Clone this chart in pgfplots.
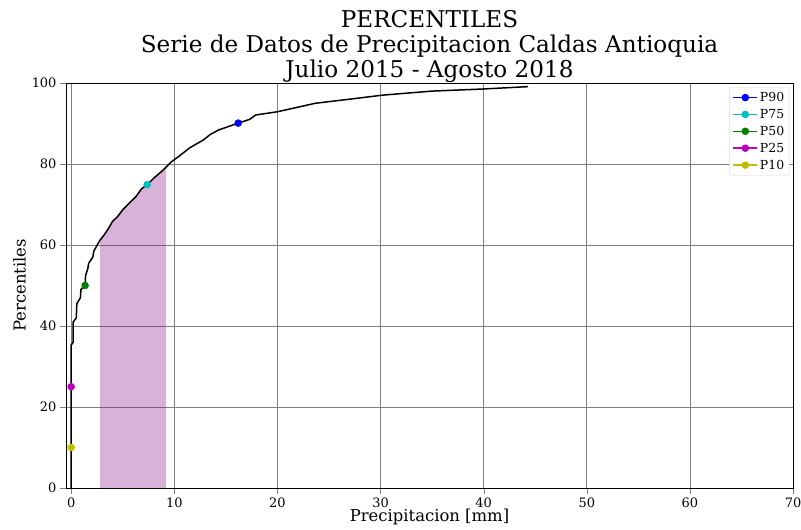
\documentclass[border=0pt]{standalone}
\usepackage{pgfplots}
\pgfplotsset{compat=1.18}
\usepackage{fontspec}
\setmainfont{DejaVu Serif}
\definecolor{mplc}{rgb}{0,0.75,0.75}
\definecolor{mplg}{rgb}{0,0.5,0}
\definecolor{mplm}{rgb}{0.75,0,0.75}
\definecolor{mply}{rgb}{0.75,0.75,0}
\definecolor{mplpurple}{rgb}{0.502,0,0.502}
\begin{document}
\begin{tikzpicture}
\path[use as bounding box] (-66bp,-42bp) rectangle (735bp,488bp);
\begin{axis}[
  at={(0,0)}, anchor=south west,
  scale only axis, width=727bp, height=405bp,
  xmin=-0.5, xmax=70, ymin=0, ymax=100,
  xtick={0,10,...,70}, ytick={0,20,...,100},
  grid=major, major grid style={color=gray, line width=0.7pt},
  axis line style={line width=0.7pt},
  tick align=outside, tick pos=left,
  major tick length=6bp,
  tick label style={font=\fontsize{13}{15}\selectfont},
  /pgf/number format/assume math mode=true,
  xlabel={Precipitacion [mm]}, ylabel={Percentiles},
  label style={font=\fontsize{16.5}{18}\selectfont},
  xlabel style={yshift=5bp}, ylabel style={yshift=-1bp},
  title={PERCENTILES\\Serie de Datos de Precipitacion Caldas Antioquia\\Julio 2015 - Agosto 2018},
  title style={align=center, font=\fontsize{23.2}{25}\selectfont, yshift=-9bp},
  legend style={at={(0.995,0.99)}, anchor=north east, font=\fontsize{12.5}{14}\selectfont,
    draw=gray!30, rounded corners=2pt, row sep=2.2bp, inner sep=3bp},
  legend cell align=left,
  legend image code/.code={\draw[line width=1.5pt, mark repeat=2,mark phase=2] plot coordinates {(0cm,0cm) (0.42cm,0cm) (0.84cm,0cm)};},
]
\addplot[draw=none, fill=mplpurple, fill opacity=0.3, forget plot] coordinates {
(2.8,0) (2.8,61.2) (3.2,62.5) (3.6,64) (4.0,65.8) (4.5,67) (5.0,68.7) (5.7,70.5) (6.3,72) (6.8,73.8) (7.37,74.9) (8.0,76.5) (8.7,78) (9.2,79.2) (9.2,0)
} -- cycle;
\addplot[color=black, line width=1.5pt, forget plot] coordinates {
(0,0) (0,35.3) (0.2,36) (0.2,41) (0.5,42) (0.55,45.5) (0.9,47) (0.95,49) (1.35,50) (1.4,52.5) (1.6,54) (1.7,55.5) (2.1,57) (2.2,58.5) (2.8,61.2) (3.2,62.5) (3.6,64) (4.0,65.8) (4.5,67) (5.0,68.7) (5.7,70.5) (6.3,72) (6.8,73.8) (7.37,74.9) (8.0,76.5) (8.7,78) (9.2,79.2) (9.7,80.5) (10.5,82) (11.5,84) (12.8,85.9) (13.5,87.3) (14.3,88.4) (15.2,89.2) (16.2,90.1) (17.3,91) (17.9,92.1) (20,92.9) (23.7,95) (27,96) (30.2,97) (35,98) (39.8,98.5) (44.3,99.1)
};
\addplot[color=blue, line width=1.5pt, mark=*, mark size=3bp] coordinates {(16.2,90.1)};
\addlegendentry{P90}
\addplot[color=mplc, line width=1.5pt, mark=*, mark size=3bp] coordinates {(7.37,74.9)};
\addlegendentry{P75}
\addplot[color=mplg, line width=1.5pt, mark=*, mark size=3bp] coordinates {(1.35,50)};
\addlegendentry{P50}
\addplot[color=mplm, line width=1.5pt, mark=*, mark size=3bp] coordinates {(0,25)};
\addlegendentry{P25}
\addplot[color=mply, line width=1.5pt, mark=*, mark size=3bp] coordinates {(0,10)};
\addlegendentry{P10}
\end{axis}
\end{tikzpicture}
\end{document}
